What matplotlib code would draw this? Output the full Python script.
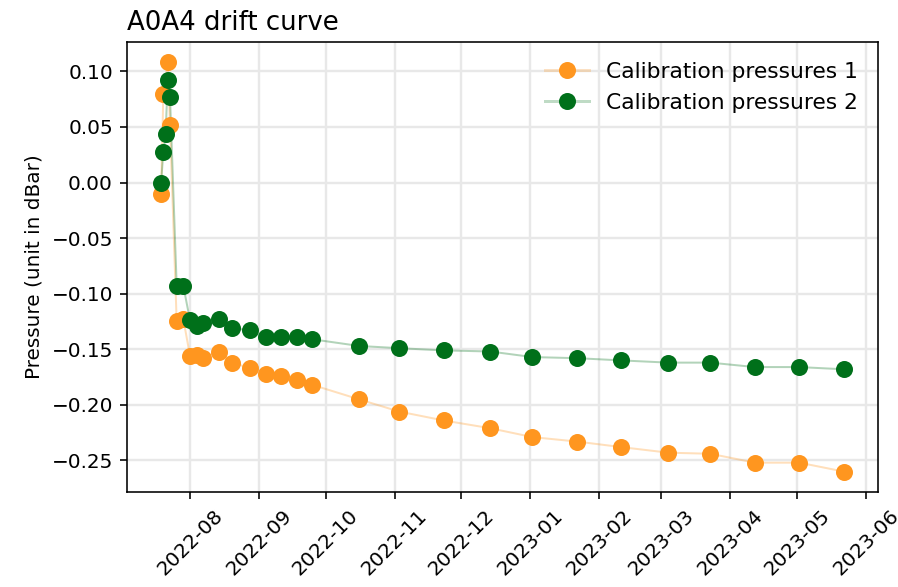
import matplotlib
matplotlib.use("Agg")
import matplotlib.pyplot as plt
import matplotlib.dates as mdates
import numpy as np
import pandas as pd

# calibration run 1
dates1 = ["2022-07-19", "2022-07-20", "2022-07-22", "2022-07-23", "2022-07-26",
          "2022-07-29", "2022-08-01", "2022-08-04", "2022-08-07", "2022-08-14",
          "2022-08-20", "2022-08-28", "2022-09-04", "2022-09-11", "2022-09-18",
          "2022-09-25", "2022-10-16", "2022-11-03", "2022-11-23", "2022-12-14",
          "2023-01-02", "2023-01-22", "2023-02-11", "2023-03-04", "2023-03-23",
          "2023-04-12", "2023-05-02", "2023-05-22"]
pres1 = [-0.0105, 0.080, 0.108, 0.052, -0.125,
         -0.123, -0.156, -0.155, -0.158, -0.152,
         -0.162, -0.167, -0.172, -0.174, -0.1775,
         -0.182, -0.195, -0.206, -0.214, -0.221,
         -0.229, -0.233, -0.238, -0.243, -0.244,
         -0.252, -0.252, -0.260]

# calibration run 2
dates2 = ["2022-07-19", "2022-07-20", "2022-07-21", "2022-07-22", "2022-07-23",
          "2022-07-26", "2022-07-29", "2022-08-01", "2022-08-04", "2022-08-07",
          "2022-08-14", "2022-08-20", "2022-08-28", "2022-09-04", "2022-09-11",
          "2022-09-18", "2022-09-25", "2022-10-16", "2022-11-03", "2022-11-23",
          "2022-12-14", "2023-01-02", "2023-01-22", "2023-02-11", "2023-03-04",
          "2023-03-23", "2023-04-12", "2023-05-02", "2023-05-22"]
pres2 = [0.0, 0.0276, 0.0435, 0.092, 0.077,
         -0.093, -0.093, -0.124, -0.129, -0.126,
         -0.123, -0.131, -0.133, -0.139, -0.139,
         -0.139, -0.141, -0.147, -0.149, -0.151,
         -0.152, -0.157, -0.158, -0.160, -0.162,
         -0.162, -0.166, -0.166, -0.168]

t1 = pd.to_datetime(dates1)
t2 = pd.to_datetime(dates2)

fig, ax = plt.subplots(figsize=(898 / 144, 587 / 144), dpi=144)
fig.subplots_adjust(left=0.1414, right=0.9777, top=0.9284, bottom=0.1618)

orange = "#ff961f"
green = "#00701a"

for t, p, c, lab in [(t1, pres1, orange, "Calibration pressures 1"),
                     (t2, pres2, green, "Calibration pressures 2")]:
    ax.plot(t, p, color=c, alpha=0.3, linewidth=1, zorder=2)
    ax.plot(t, p, "o", color=c, markersize=7.5, zorder=3)
    # legend proxy: faint line with solid marker
    ax.plot([], [], color=matplotlib.colors.to_rgba(c, 0.25), linewidth=1.5,
            marker="o", markersize=7.5, markerfacecolor=c,
            markeredgecolor=c, label=lab)

ax.legend(frameon=False, loc="upper right", fontsize=10.9)

ax.xaxis.set_major_locator(mdates.MonthLocator())
ax.xaxis.set_major_formatter(mdates.DateFormatter("%Y-%m"))
plt.setp(ax.get_xticklabels(), rotation=45)

ax.grid(True, color="#e8e8e8", linewidth=1.2, zorder=0)
ax.set_axisbelow(True)
ax.set_ylabel("Pressure (unit in dBar)")
ax.set_title("A0A4 drift curve", loc="left", fontsize=13)

fig.savefig("out.png", dpi=144)
